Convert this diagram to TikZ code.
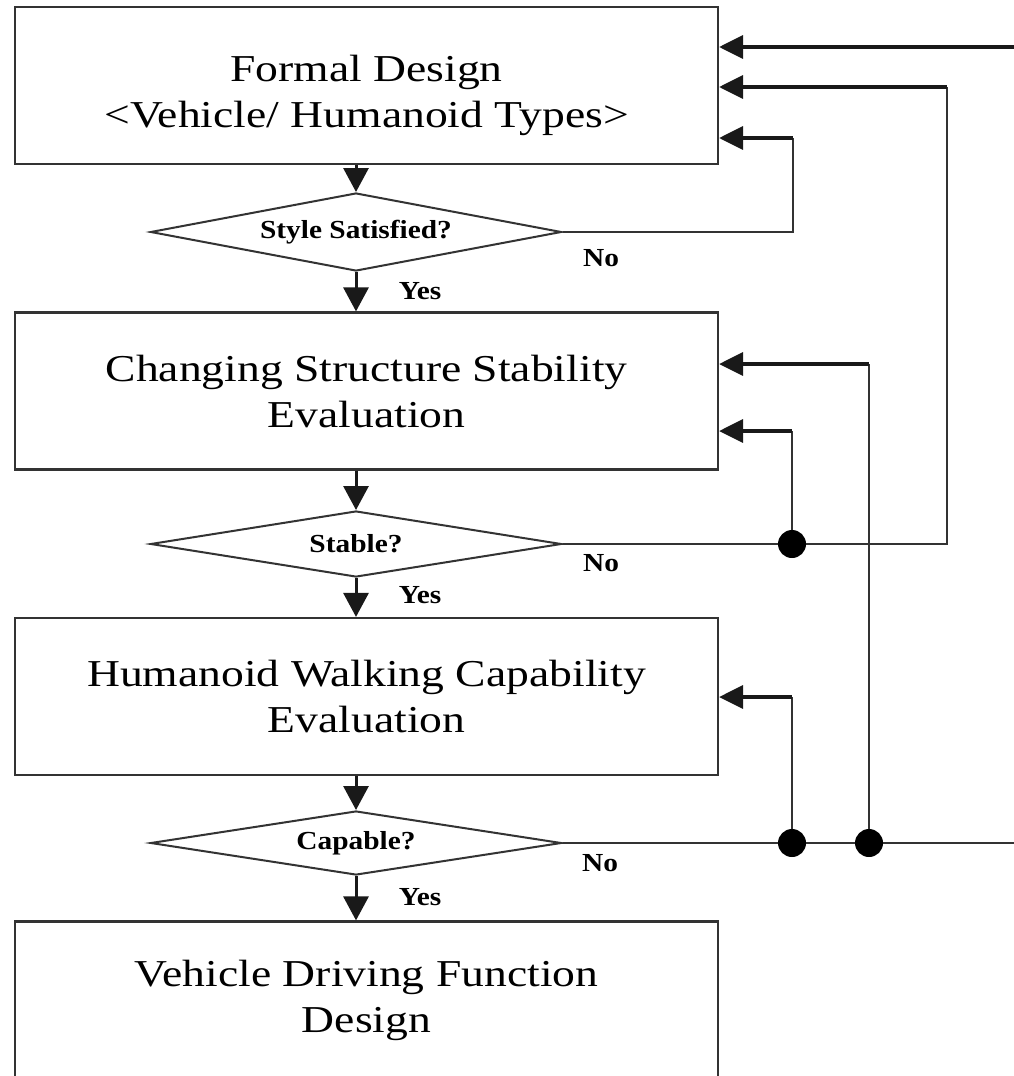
\documentclass[tikz,border=0pt]{standalone}
\usepackage{fontspec}
\setmainfont{Liberation Serif}
\newfontfamily\boxfont[FakeStretch=1.2]{Liberation Serif}
\newfontfamily\dfont[FakeStretch=1.13]{Liberation Serif}
\usetikzlibrary{shapes.geometric,arrows.meta}
\begin{document}
\begin{tikzpicture}[x=1pt,y=-1pt,
  box/.style={draw=black!80, line width=2.2pt, minimum width=703pt, minimum height=157pt, inner sep=0pt, align=center, font=\boxfont\fontsize{38}{46}\selectfont},
  boxtext/.style={inner sep=0pt, align=center, font=\boxfont\fontsize{38}{46}\selectfont},
  dec/.style={draw=black!80, line width=2pt, shape=diamond, shape aspect=6, minimum width=411pt, minimum height=66pt, inner sep=0pt, font=\dfont\bfseries\fontsize{26}{30}\selectfont},
  flow/.style={line width=3pt, draw=black!90, -{Triangle[length=24pt,width=25pt]}},
  fb/.style={line width=2pt, draw=black!80},
  fbarrow/.style={line width=3.5pt, draw=black!90, -{Triangle[length=24pt,width=23pt]}},
  lbl/.style={font=\dfont\bfseries\fontsize{26}{30}\selectfont, inner sep=0pt},
  dotnode/.style={ellipse, fill=black, minimum width=28pt, minimum height=28pt, inner sep=0pt}]
\useasboundingbox (0,0) rectangle (1014,1076);
\fill[white] (0,0) rectangle (1014,1076);
\clip (0,0) rectangle (1014,1076);

% boxes and decisions
\node[box] (b1) at (366.5,85.5) {};
\node[boxtext] (t1) at (366.5,95) {Formal Design\\<Vehicle/ Humanoid Types>};
\node[dec, minimum height=78pt] (d1) at (356,232) {Style Satisfied?};
\node[box] (b2) at (366.5,391) {Changing Structure Stability\\Evaluation};
\node[dec] (d2) at (356,544) {Stable?};
\node[box] (b3) at (366.5,696.5) {Humanoid Walking Capability\\Evaluation};
\node[dec, minimum height=64pt] (d3) at (356,843) {Capable?};
\node[box] (b4) at (366.5,1000) {Vehicle Driving Function\\Design};

% main flow
\draw[flow] (b1.south -| d1.north) -- (d1.north);
\draw[flow] (d1.south) -- (b2.north -| d1.south);
\draw[flow] (b2.south -| d2.north) -- (d2.north);
\draw[flow] (d2.south) -- (b3.north -| d2.south);
\draw[flow] (b3.south -| d3.north) -- (d3.north);
\draw[flow] (d3.south) -- (b4.north -| d3.south);

% labels
\node[lbl] (y1) at (420,291) {Yes};
\node[lbl] (y2) at (420,595) {Yes};
\node[lbl] (y3) at (420,897) {Yes};
\node[lbl] (n1) at (601,258) {No};
\node[lbl] (n2) at (601,563) {No};
\node[lbl] (n3) at (600,863) {No};

% feedback coordinates
\coordinate (k1) at (793,138);
\coordinate (k2) at (947,87);
\coordinate (p1) at (792,544);
\coordinate (k3) at (792,431);
\coordinate (p2) at (792,843);
\coordinate (p3) at (869,843);
\coordinate (k4) at (792,697);
\coordinate (k5) at (869,364);
\coordinate (e3) at (1014,843);
\coordinate (e0) at (1014,47);

% feedback lines
\draw[fb] (d1.east) -| (k1);
\draw[fbarrow] (k1) -- (k1 -| b1.east);
\draw[fb] (d2.east) -| (k2);
\draw[fbarrow] (k2) -- (k2 -| b1.east);
\draw[fb] (p1) -- (k3);
\draw[fbarrow] (k3) -- (k3 -| b2.east);
\draw[fb] (d3.east) -- (e3);
\draw[fb] (p2) -- (k4);
\draw[fbarrow] (k4) -- (k4 -| b3.east);
\draw[fb] (p3) -- (k5);
\draw[fbarrow] (k5) -- (k5 -| b2.east);
\draw[fbarrow] (e0) -- (e0 -| b1.east);

% junction dots
\node[dotnode] (j1) at (p1) {};
\node[dotnode] (j2) at (p2) {};
\node[dotnode] (j3) at (p3) {};
\end{tikzpicture}
\end{document}
